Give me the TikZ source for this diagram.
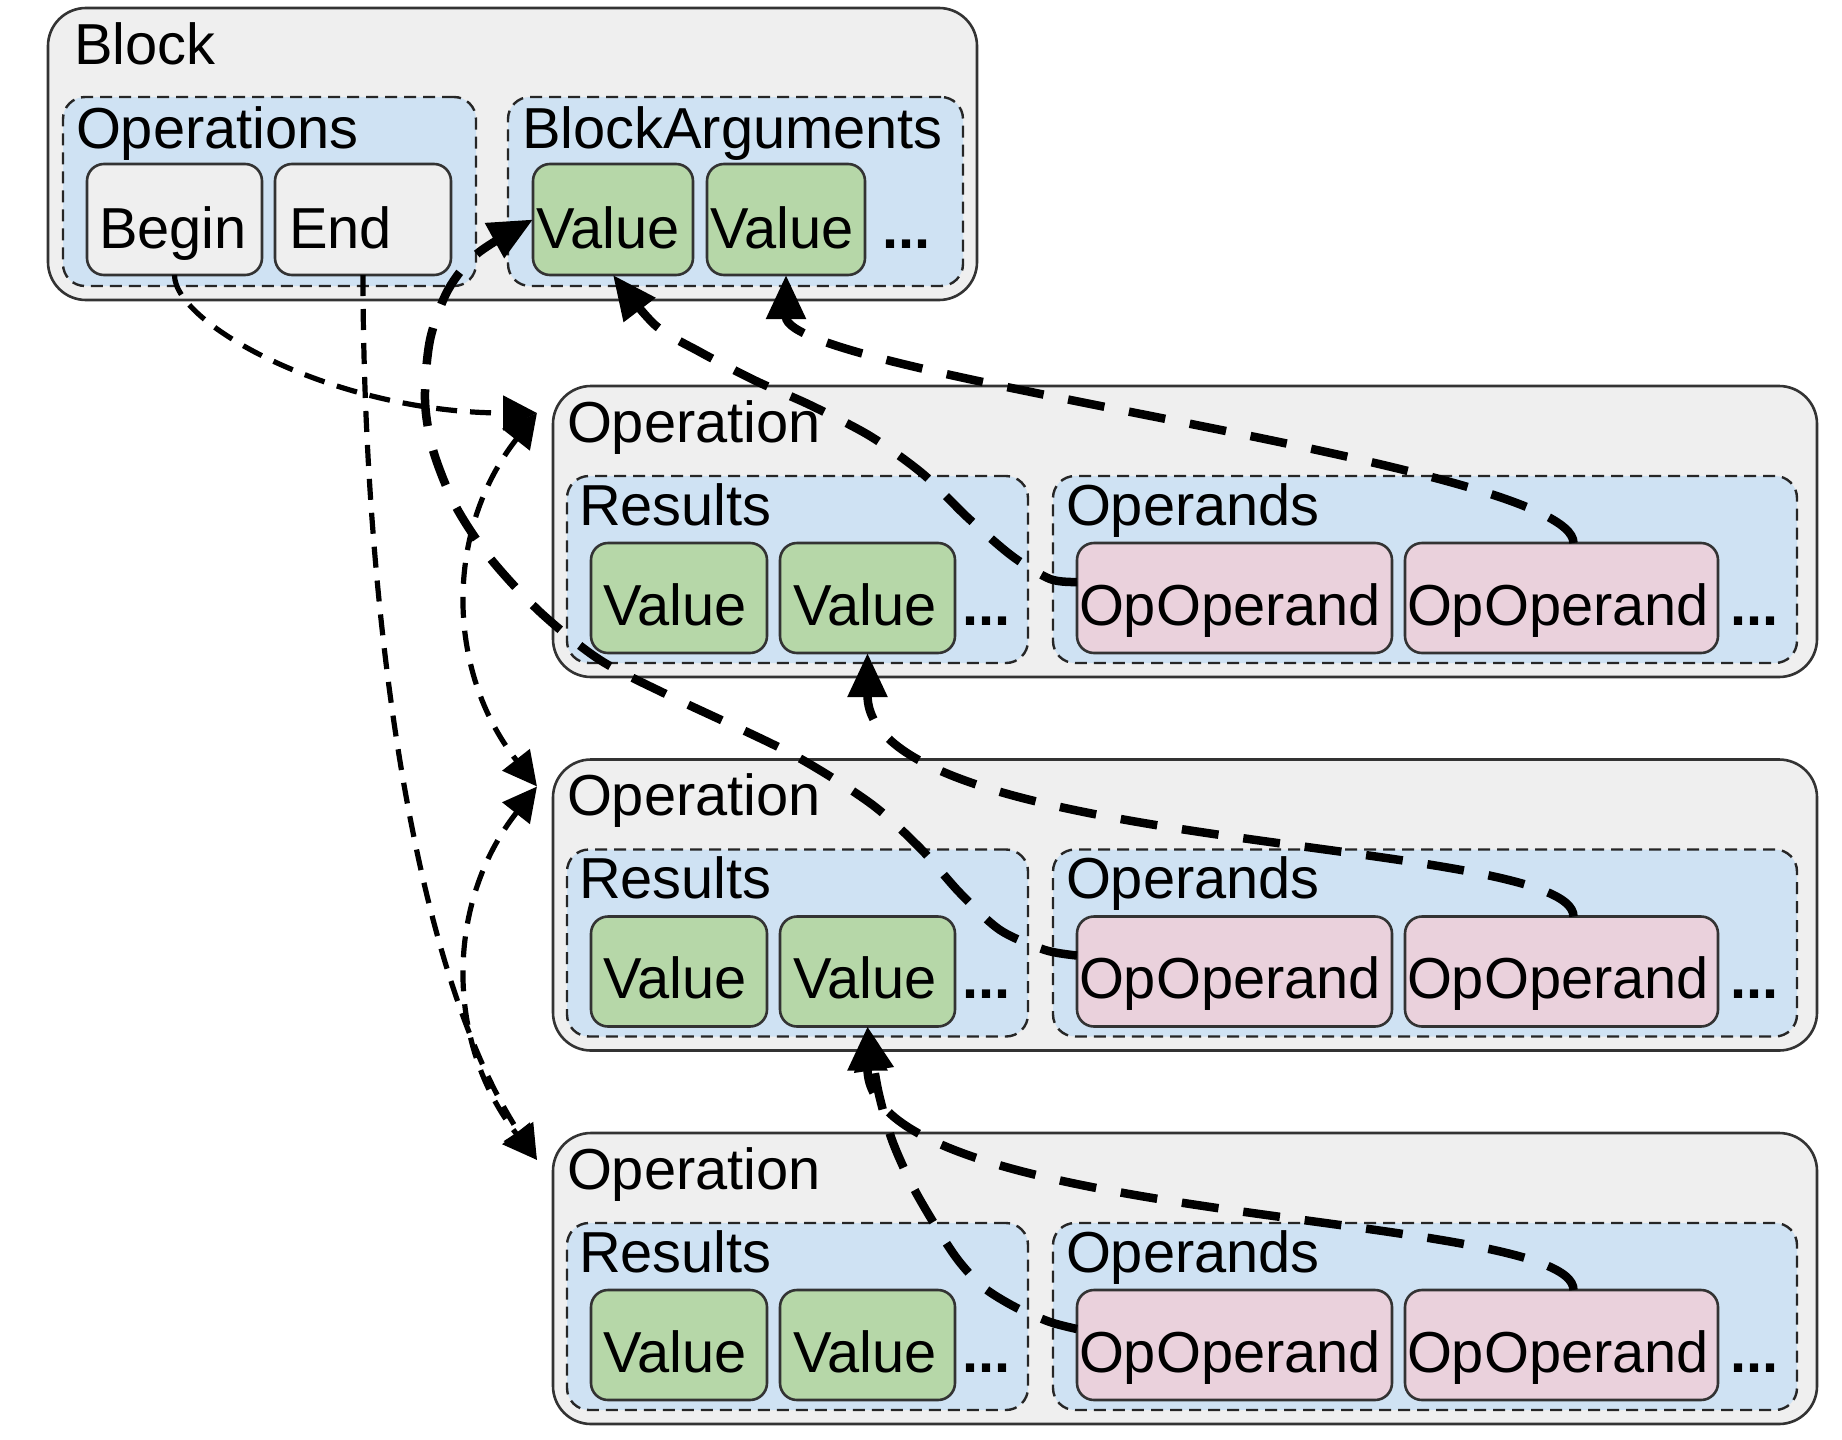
\documentclass[tikz,border=0pt]{standalone}
\usepackage{fontspec}
\setmainfont{Liberation Sans}
\usetikzlibrary{arrows.meta,calc}
\definecolor{grayf}{HTML}{EFEFEF}
\definecolor{bluef}{HTML}{CFE2F3}
\definecolor{greenf}{HTML}{B6D7A8}
\definecolor{pinkf}{HTML}{EAD1DC}
\definecolor{linec}{HTML}{333333}
\newcommand\dfont{\fontsize{57.8pt}{62pt}\selectfont}
\tikzset{
  basebox/.style={draw=linec, line width=2.6pt, inner sep=0pt, outer sep=0pt, anchor=north west},
  outerbox/.style={basebox, fill=grayf, rounded corners=38pt},
  contbox/.style={basebox, draw=black!85, fill=bluef, dash pattern=on 12pt off 7pt, line width=2.4pt, rounded corners=22pt},
  graybox/.style={basebox, fill=grayf, rounded corners=17pt},
  greenbox/.style={basebox, fill=greenf, rounded corners=17pt},
  pinkbox/.style={basebox, fill=pinkf, rounded corners=17pt},
  txt/.style={anchor=base west, inner sep=0pt, outer sep=0pt, font=\dfont},
  dots/.style={txt, font=\dfont\bfseries},
  thinlink/.style={line width=5.2pt, dash pattern=on 21pt off 13pt, -{Triangle[length=34pt,width=34pt]}},
  thinboth/.style={line width=5.2pt, dash pattern=on 21pt off 13pt, {Triangle[length=34pt,width=34pt]}-{Triangle[length=34pt,width=34pt]}},
  thicklink/.style={line width=8.5pt, dash pattern=on 37pt off 25pt, -{Triangle[length=44pt,width=38pt]}},
}
\begin{document}
\begin{tikzpicture}[x=1pt,y=-1pt]
\useasboundingbox (0,0) rectangle (1842,1440);
\fill[white] (0,0) rectangle (1842,1440);
% Block
\node[outerbox, minimum width=929pt, minimum height=292pt] (block) at (48,8) {};
\node[txt] (tblock) at (74,64) {Block};
\node[contbox, minimum width=413pt, minimum height=189pt] (ops) at (63,97) {};
\node[txt] (tops) at (76,148) {Operations};
\node[graybox, minimum width=175pt, minimum height=111pt] (beginop) at (87,164) {};
\node[txt] (tbegin) at (99,248) {Begin};
\node[graybox, minimum width=176pt, minimum height=111pt] (endop) at (275,164) {};
\node[txt] (tend) at (289,248) {End};
\node[contbox, minimum width=455pt, minimum height=189pt] (bargs) at (508,97) {};
\node[txt] (tbargs) at (522,148) {BlockArguments};
\node[greenbox, minimum width=160pt, minimum height=111pt] (bava) at (533,164) {};
\node[txt] (tbava) at (536,248) {Value};
\node[greenbox, minimum width=158pt, minimum height=111pt] (bavb) at (707,164) {};
\node[txt] (tbavb) at (710,248) {Value};
\node[dots] (tbadots) at (882,248) {...};
% Operations
\foreach \k in {1,2,3}{
  \pgfmathsetmacro{\T}{386+373.5*(\k-1)}
  \node[outerbox, minimum width=1264pt, minimum height=291pt] (op\k) at (553,\T) {};
  \node[txt] (top\k) at (567,{\T+56}) {Operation};
  \node[contbox, minimum width=461pt, minimum height=187pt] (res\k) at (567,{\T+90}) {};
  \node[txt] (tres\k) at (579,{\T+139}) {Results};
  \node[greenbox, minimum width=176pt, minimum height=110pt] (rva\k) at (591,{\T+157}) {};
  \node[txt] (trva\k) at (603,{\T+239}) {Value};
  \node[greenbox, minimum width=175pt, minimum height=110pt] (rvb\k) at (780,{\T+157}) {};
  \node[txt] (trvb\k) at (793,{\T+239}) {Value};
  \node[dots] (trdots\k) at (962,{\T+239}) {...};
  \node[contbox, minimum width=744pt, minimum height=187pt] (opd\k) at (1053,{\T+90}) {};
  \node[txt] (topd\k) at (1066,{\T+139}) {Operands};
  \node[pinkbox, minimum width=315pt, minimum height=110pt] (ooa\k) at (1077,{\T+157}) {};
  \node[txt] (tooa\k) at (1079,{\T+239}) {OpOperand};
  \node[pinkbox, minimum width=313pt, minimum height=110pt] (oob\k) at (1405,{\T+157}) {};
  \node[txt] (toob\k) at (1407,{\T+239}) {OpOperand};
  \node[dots] (todots\k) at (1730,{\T+239}) {...};
}
% entry points at the operations
\coordinate (in1) at ($(op1.north west)+(-16,27)$);
\coordinate (in2) at ($(op2.north west)+(-16,27)$);
\coordinate (in3) at ($(op3.north west)+(-16,27)$);
\coordinate (a1s) at ($(ooa1.west)+(0,-16)$);
\coordinate (c2s) at ($(ooa2.west)+(0,-16)$);
\coordinate (e3s) at ($(ooa3.west)+(0,-16)$);
% thin connectors
\draw[thinlink] (beginop.south) .. controls +(0,50) and +(-200,0) .. (in1);
\draw[thinlink] (endop.south) .. controls +(0,275) and +(-137,-210) .. (in3);
\draw[thinboth] (in1) .. controls +(-92,117) and +(-92,-117) .. (in2);
\draw[thinboth] (in2) .. controls +(-92,117) and +(-92,-117) .. (in3);
% thick connectors
\draw[thicklink] plot[smooth, tension=0.5] coordinates {(a1s) (1050,579) (1012,556) (967,517) (923,474) (870,436) (810,405) (756,381) (700,352) (655,325) (bava.south)};
\draw[thicklink] ($(oob1.north)+(12,0)$) .. controls +(0,-80) and +(0,100) .. (bavb.south);
\draw[thicklink] plot[smooth, tension=0.5] coordinates {(c2s) (1045,950) (1000,930) (960,893) (920,848) (870,803) (790,753) (672,697) (600,660) (540,612) (490,558) (455,505) (433,450) (425,400) (430,340) (448,290) (478,253) (bava.west)};
\draw[thicklink] ($(oob2.north)+(12,0)$) .. controls +(0,-80) and +(0,200) .. (rvb1.south);
\draw[thicklink] plot[smooth, tension=0.5] coordinates {(e3s) (1050,1322) (1015,1307) (983,1287) (958,1260) (935,1225) (912,1185) (892,1140) (878,1090) (rvb2.south)};
\draw[thicklink] ($(oob3.north)+(12,0)$) .. controls +(0,-80) and +(0,200) .. (rvb2.south);
\end{tikzpicture}
\end{document}
